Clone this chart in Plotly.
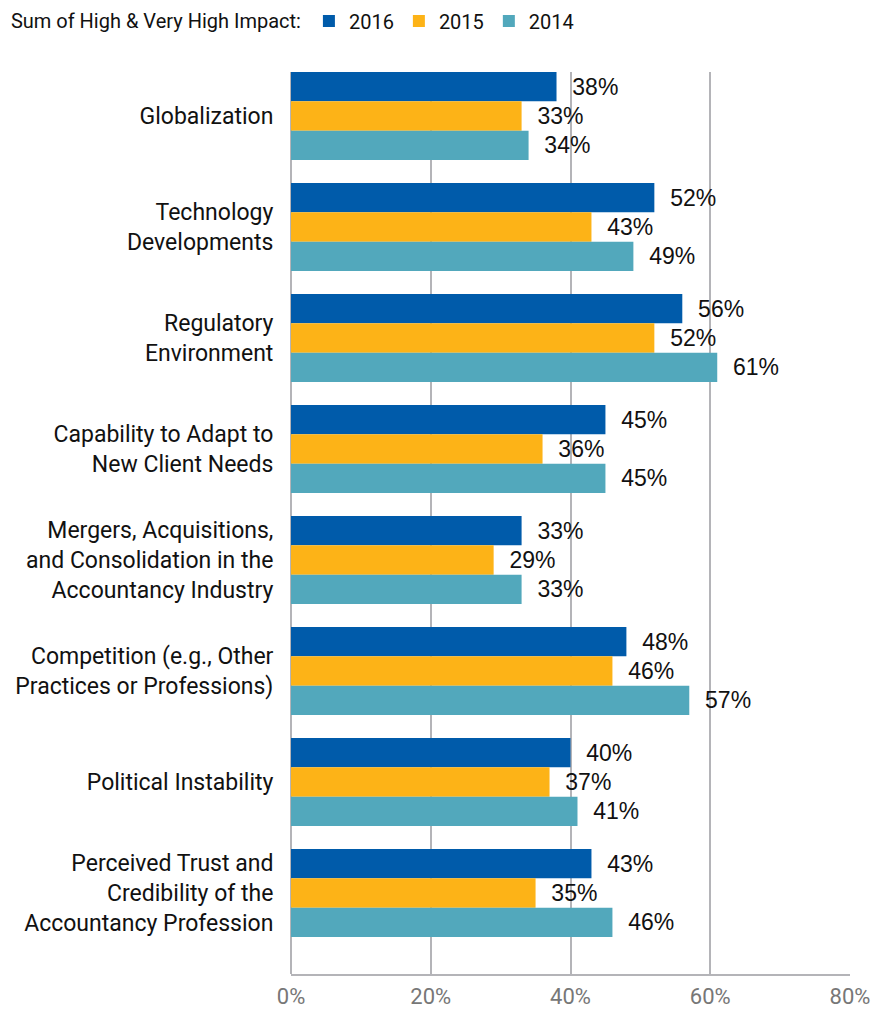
import plotly.graph_objects as go

categories = [
    'Globalization',
    'Technology<br>Developments',
    'Regulatory<br>Environment',
    'Capability to Adapt to<br>New Client Needs',
    'Mergers, Acquisitions,<br>and Consolidation in the<br>Accountancy Industry',
    'Competition (e.g., Other<br>Practices or Professions)',
    'Political Instability',
    'Perceived Trust and<br>Credibility of the<br>Accountancy Profession',
]

values_2016 = [38, 52, 56, 45, 33, 48, 40, 43]
values_2015 = [33, 43, 52, 36, 29, 46, 37, 35]
values_2014 = [34, 49, 61, 45, 33, 57, 41, 46]

x_ticks = [0, 20, 40, 60, 80]
x_tick_labels = ['0%', '20%', '40%', '60%', '80%']

narrow = 'Roboto, DejaVu Sans Condensed, sans-serif'
regular = 'Liberation Sans, Arial, sans-serif'

fig = go.Figure()


def add_series(fig, name, values, color):
    fig.add_trace(go.Bar(
        y=categories,
        x=values,
        name=name,
        orientation='h',
        marker=dict(color=color, line=dict(width=0)),
        text=['\u00a0\u00a0%d%%' % v for v in values],
        textposition='outside',
        constraintext='none',
        cliponaxis=False,
        textfont=dict(family=regular, size=23, color='#111111'),
        hoverinfo='x+name',
    ))


add_series(fig, '2016', values_2016, '#005BAA')
add_series(fig, '2015', values_2015, '#FDB317')
add_series(fig, '2014', values_2014, '#52A8BC')

# page body has an 8px margin, so the figure is a bit smaller than the window
fig.update_layout(
    width=881,
    height=1002,
    barmode='group',
    bargap=0.207,
    bargroupgap=0,
    plot_bgcolor='white',
    paper_bgcolor='white',
    margin=dict(l=283, r=39, t=64, b=36, autoexpand=False),
    legend=dict(
        orientation='h',
        xref='container',
        yref='container',
        x=0.001,
        xanchor='left',
        y=0.987,
        yanchor='middle',
        title=dict(text='Sum of High & Very High Impact:', side='left',
                   font=dict(family=narrow, size=20, color='#111111')),
        font=dict(family=narrow, size=20, color='#111111'),
        traceorder='normal',
    ),
)

fig.update_xaxes(
    range=[0, 80],
    tickvals=x_ticks,
    ticktext=x_tick_labels,
    tickfont=dict(family=narrow, size=22, color='#777777'),
    showgrid=True,
    gridcolor='#B4B4B8',
    gridwidth=2,
    zeroline=True,
    zerolinecolor='#B4B4B8',
    zerolinewidth=2,
    showline=True,
    linecolor='#B4B4B8',
    linewidth=2,
    ticks='outside',
    ticklen=2,
    tickcolor='rgba(0,0,0,0)',
    automargin=False,
    fixedrange=True,
)

fig.update_yaxes(
    type='category',
    range=[7.73, -0.396],
    tickfont=dict(family=narrow, size=23, color='#111111'),
    showgrid=False,
    zeroline=False,
    showline=False,
    ticks='outside',
    ticklen=12,
    tickcolor='rgba(0,0,0,0)',
    automargin=False,
    fixedrange=True,
)

fig.write_html("out.html")
